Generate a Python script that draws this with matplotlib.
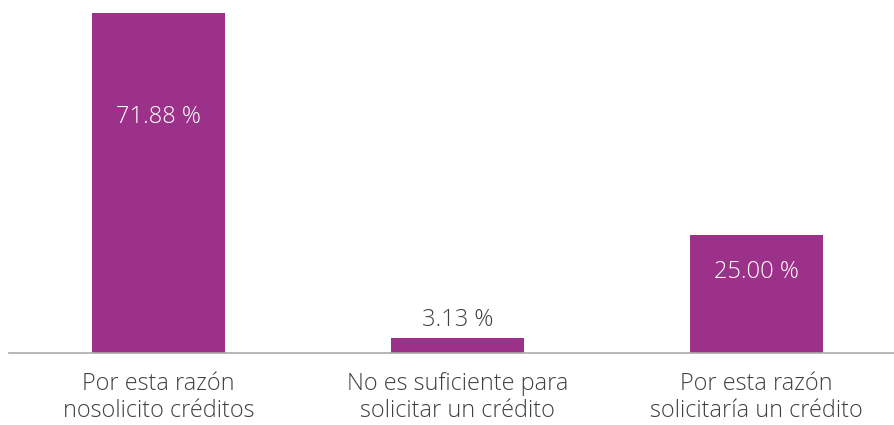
import matplotlib.pyplot as plt

categorias = ["Por esta razón\nnosolicito créditos",
              "No es suficiente para\nsolicitar un crédito",
              "Por esta razón\nsolicitaría un crédito"]
valores = [71.88, 3.13, 25.00]

fam = "Open Sans"
peso = "light"
color_barra = "#9c3189"
color_texto = "#404040"

fig = plt.figure(figsize=(8.94, 4.25), dpi=100)
# ejes un poco más anchos que la figura para imitar el recorte del original
ax = fig.add_axes([9 / 894, 72 / 425, 897 / 894, 340.6 / 425])

x = range(len(valores))
bars = ax.bar(x, valores, width=0.445, color=color_barra)
ax.set_xlim(-0.5, 2.5)
ax.set_ylim(0, 72)

# posición de etiquetas (px): dentro de la barra (blanco) o encima (gris)
desplaz = [-104, 18, -37]
for b, v, d in zip(bars, valores, desplaz):
    cx = b.get_x() + b.get_width() / 2
    dentro = d < 0
    ax.annotate(f"{v:.2f} %", (cx, v), xytext=(0, d * 0.72), textcoords="offset points",
                ha="center", va="center", fontsize=17, family=fam, weight=peso,
                color="white" if dentro else color_texto)

ax.set_xticks(list(x))
ax.set_xticklabels(categorias, fontsize=16.8, family=fam, weight=peso,
                   color=color_texto, linespacing=1.15)
ax.tick_params(axis="x", length=0, pad=14)
ax.set_yticks([])
for s in ["top", "right", "left"]:
    ax.spines[s].set_visible(False)
ax.spines["bottom"].set_color("#aaaaaa")
ax.spines["bottom"].set_linewidth(1.2)

fig.savefig("out.png", dpi=100)
